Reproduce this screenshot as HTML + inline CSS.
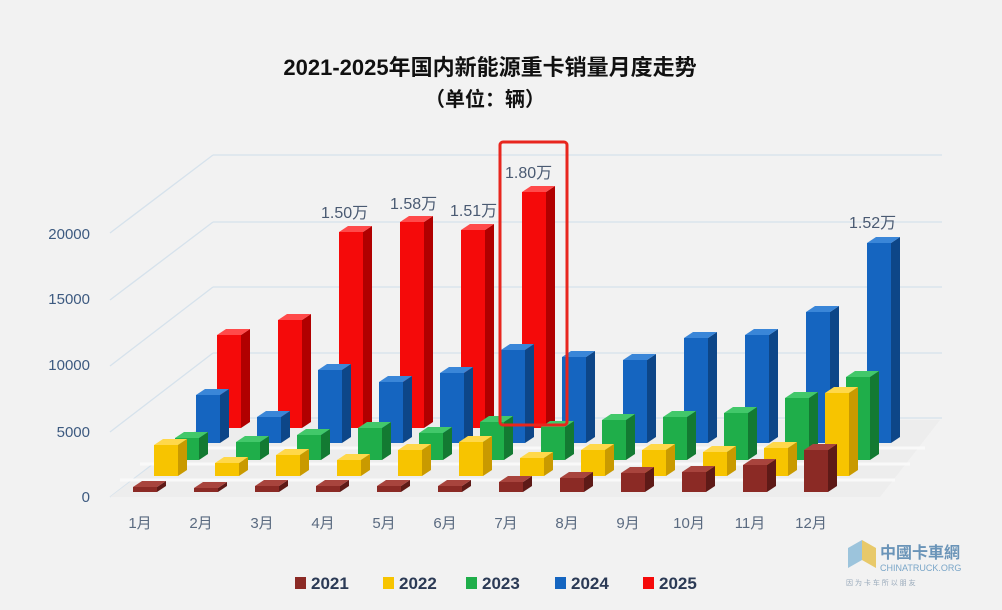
<!DOCTYPE html>
<html><head><meta charset="utf-8"><style>
html,body{margin:0;padding:0;background:#f2f2f2;}
svg{display:block;font-family:"Liberation Sans","Noto Sans CJK SC",sans-serif;}
</style></head><body>
<svg id="s" width="1002" height="610" viewBox="0 0 1002 610">
<rect width="1002" height="610" fill="#f2f2f2"/>
<g stroke="#d6e2ec" stroke-width="1.3" fill="none">
<line x1="213" y1="155" x2="942" y2="155"/><line x1="213" y1="222" x2="942" y2="222"/>
<line x1="213" y1="287" x2="942" y2="287"/><line x1="213" y1="353" x2="942" y2="353"/>
<line x1="213" y1="418" x2="942" y2="418"/>
<line x1="213" y1="155" x2="110" y2="233"/><line x1="213" y1="222" x2="110" y2="300"/>
<line x1="213" y1="287" x2="110" y2="366"/><line x1="213" y1="353" x2="110" y2="432"/>
<line x1="213" y1="418" x2="110" y2="497"/>
</g>
<polygon points="110,497 880,497 940,420 213,420" fill="#ededed"/>
<g stroke="#f9f9f9" stroke-width="3">
<line x1="120" y1="480" x2="895" y2="480"/><line x1="140" y1="464" x2="910" y2="464"/><line x1="160" y1="448" x2="925" y2="448"/>
</g>
<g id="bars"></g>
<g fill="#3d5a80" font-size="15" text-anchor="end">
<text x="90" y="239">20000</text><text x="90" y="304">15000</text>
<text x="90" y="370">10000</text><text x="90" y="437">5000</text><text x="90" y="502">0</text>
</g>
<g fill="#5a6a80" font-size="15" text-anchor="middle">
<text x="140" y="528">1月</text><text x="201" y="528">2月</text><text x="262" y="528">3月</text>
<text x="323" y="528">4月</text><text x="384" y="528">5月</text><text x="445" y="528">6月</text>
<text x="506" y="528">7月</text><text x="567" y="528">8月</text><text x="628" y="528">9月</text>
<text x="689" y="528">10月</text><text x="750" y="528">11月</text><text x="811" y="528">12月</text>
</g>
<g fill="#4a5a72" font-size="16">
<text x="321" y="218">1.50万</text><text x="390" y="209">1.58万</text>
<text x="450" y="216">1.51万</text><text x="505" y="178">1.80万</text>
<text x="849" y="228">1.52万</text>
</g>
<rect x="500" y="142" width="67" height="283" rx="3" fill="none" stroke="#e8261e" stroke-width="3"/>
<text x="490" y="75" font-size="22" font-weight="bold" fill="#111" text-anchor="middle">2021-2025年国内新能源重卡销量月度走势</text>
<text x="485" y="106" font-size="20" font-weight="bold" fill="#111" text-anchor="middle">（单位：辆）</text>
<g font-size="17" font-weight="bold" fill="#2b3a55">
<rect x="295" y="577" width="11" height="12" fill="#8b2a25"/><text x="311" y="589">2021</text>
<rect x="383" y="577" width="11" height="12" fill="#f7c400"/><text x="399" y="589">2022</text>
<rect x="466" y="577" width="11" height="12" fill="#1fae4a"/><text x="482" y="589">2023</text>
<rect x="555" y="577" width="11" height="12" fill="#1565c0"/><text x="571" y="589">2024</text>
<rect x="643" y="577" width="11" height="12" fill="#f50a0a"/><text x="659" y="589">2025</text>
</g>
<g>
<polygon points="848,548 862,540 862,560 848,568" fill="#9cc4dc"/>
<polygon points="862,540 876,548 876,568 862,560" fill="#e8c96a"/>
<text x="880" y="558" font-size="16" font-weight="bold" fill="#6a94b8">中國卡車網</text>
<text x="880" y="571" font-size="9" fill="#7aa6c8">CHINATRUCK.ORG</text>
<text x="846" y="585" font-size="7" fill="#9ab">因 为 卡 车 所 以 朋 友</text>
</g>
</svg>
<script>
var rows=[
 {x0:217,b:428,c:["#f50a0a","#b00000","#ff4a4a"],t:[335,320,232,222,230,192]},
 {x0:196,b:443,c:["#1565c0","#0d4688","#3a86d8"],t:[395,417,370,382,373,350,357,360,338,335,312,243]},
 {x0:175,b:460,c:["#1fae4a","#137a32","#42c86a"],t:[438,442,435,428,433,422,427,420,417,413,398,377]},
 {x0:154,b:476,c:["#f7c400","#c99a00","#ffd84a"],t:[445,463,455,460,450,442,458,450,450,452,448,393]},
 {x0:133,b:492,c:["#8b2a25","#5e1a17","#a8443d"],t:[487,488,486,486,486,486,482,478,473,472,465,450]}
];
var g=document.getElementById('bars'),h='',w=24,d=9,e=6;
rows.forEach(function(r){r.t.forEach(function(t,i){var x=r.x0+61*i,b=r.b;
h+='<rect x="'+x+'" y="'+t+'" width="'+w+'" height="'+(b-t)+'" fill="'+r.c[0]+'"/>';
h+='<polygon points="'+(x+w)+','+t+' '+(x+w+d)+','+(t-e)+' '+(x+w+d)+','+(b-e)+' '+(x+w)+','+b+'" fill="'+r.c[1]+'"/>';
h+='<polygon points="'+x+','+t+' '+(x+d)+','+(t-e)+' '+(x+w+d)+','+(t-e)+' '+(x+w)+','+t+'" fill="'+r.c[2]+'"/>';
});});
g.innerHTML=h;
</script>
</body></html>
